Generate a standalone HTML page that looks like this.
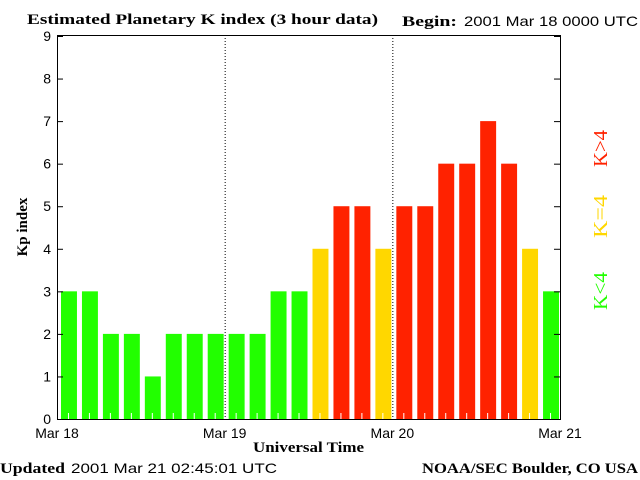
<!DOCTYPE html>
<html><head><meta charset="utf-8"><style>
body{margin:0;background:#fff;width:640px;height:480px;overflow:hidden}
svg{display:block}
.s{font-family:"Liberation Sans",sans-serif;font-size:14px}
.b{font-family:"Liberation Serif",serif;font-weight:bold;font-size:15px}
</style></head><body>
<svg id="c" width="640" height="480">
<text class="b" x="27" y="24" textLength="351" lengthAdjust="spacingAndGlyphs">Estimated Planetary K index (3 hour data)</text>
<text class="b" x="402" y="26" textLength="55" lengthAdjust="spacingAndGlyphs">Begin:</text>
<text class="s" x="464" y="26" textLength="174" lengthAdjust="spacingAndGlyphs">2001 Mar 18 0000 UTC</text>
<g id="bars"></g>
<g id="axes"></g>
<text class="b" x="0" y="0" transform="translate(27,227) rotate(-90)" text-anchor="middle">Kp index</text>
<text class="b" x="253" y="452" textLength="111" lengthAdjust="spacingAndGlyphs">Universal Time</text>
<text class="b" x="0" y="473" textLength="65" lengthAdjust="spacingAndGlyphs">Updated</text>
<text class="s" x="71" y="473" textLength="206" lengthAdjust="spacingAndGlyphs">2001 Mar 21 02:45:01 UTC</text>
<text class="b" x="422" y="473" textLength="216" lengthAdjust="spacingAndGlyphs">NOAA/SEC Boulder, CO USA</text>
<text font-family="Liberation Serif,serif" font-size="20" fill="#ff2200" transform="translate(607,167) rotate(-90)" textLength="37" lengthAdjust="spacingAndGlyphs">K&gt;4</text>
<text font-family="Liberation Serif,serif" font-size="20" fill="#ffd700" transform="translate(607,238) rotate(-90)" textLength="43" lengthAdjust="spacingAndGlyphs">K=4</text>
<text font-family="Liberation Serif,serif" font-size="20" fill="#22ff00" transform="translate(607,310) rotate(-90)" textLength="38" lengthAdjust="spacingAndGlyphs">K&lt;4</text>
</svg>
<script>
const kpValues=[3,3,2,2,1,2,2,2,2,2,3,3,4,5,5,4,5,5,6,6,7,6,4,3];
const yTicks=[0,1,2,3,4,5,6,7,8,9];
const dayLabels=["Mar 18","Mar 19","Mar 20","Mar 21"];
const NS="http://www.w3.org/2000/svg";
const L=57,R=560,T=35,B=419,yMax=9;
const slot=(R-L)/kpValues.length;
const y=v=>B-(v/yMax)*(B-T-1);
const x=i=>L+i*slot;
function mk(t,a,p){const e=document.createElementNS(NS,t);for(const k in a)e.setAttribute(k,a[k]);p.appendChild(e);return e;}
const bars=document.getElementById('bars'),axes=document.getElementById('axes');
kpValues.forEach((v,i)=>{
 const col=v<4?'#22ff00':(v==4?'#ffd700':'#ff2200');
 const r=mk('rect',{x:x(i)+4,y:y(v),width:slot-5,height:B-y(v),fill:col},bars);
 
 
 const t=mk('line',{x1:x(i)+slot/2+1,x2:x(i)+slot/2+1,y1:B-6,y2:B,stroke:'#fff'},bars);
 
 
});
const box=mk('rect',{x:L+0.5,y:T+0.5,width:R-L,height:B-T,fill:'none',stroke:'#000'},axes);


yTicks.forEach(v=>{
 mk('line',{x1:L,x2:L+6,y1:y(v)+0.5,y2:y(v)+0.5,stroke:'#000'},axes);
 mk('line',{x1:R-6,x2:R,y1:y(v)+0.5,y2:y(v)+0.5,stroke:'#000'},axes);
 const t=mk('text',{x:L-6,y:y(v)+5,'text-anchor':'end',class:'s','font-size':'15'},axes);
 t.textContent=v;
 
 
});
const daySpan=(R-L)/(dayLabels.length-1);
dayLabels.forEach((d,i)=>{
 const px=L+i*daySpan;
 if(i>0&&i<dayLabels.length-1){
  const g=mk('line',{x1:px+0.5,x2:px+0.5,y1:T,y2:B,stroke:'#000','stroke-dasharray':'1,2'},axes);
  
  
 }
 const t=mk('text',{x:px,y:438,'text-anchor':'middle',class:'s'},axes);
 t.textContent=d;
 
 
});
</script>
</body></html>
